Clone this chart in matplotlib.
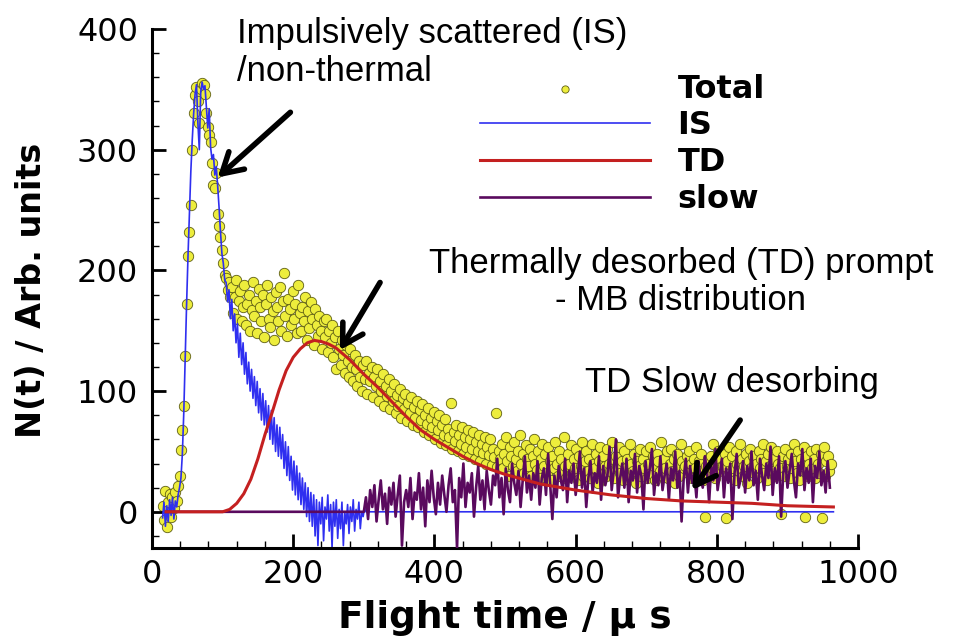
import numpy as np
import matplotlib
matplotlib.use("Agg")
import matplotlib.pyplot as plt
from matplotlib.ticker import MultipleLocator

# ---------------- data ----------------
# Total signal, sampled every 2 us starting at 15 us
total_start, total_step = 15, 2
total_vals = [
    5, -7, 17, -13, 8, 15, -4, 12, 3, 16, 9, 21, 30, 51, 68, 88, 129, 172, 212, 232,
    254, 300, 330, 345, 352, 340, 322, 350, 355, 354, 346, 330, 319, 312, 306, 289, 271, 268, 281, 247,
    237, 228, 217, 206, 196, 194, 184, 190, 178, 186, 165, 178, 192, 160, 175, 183, 158, 170, 188, 155,
    172, 180, 150, 167, 190, 162, 175, 148, 185, 170, 158, 180, 145, 172, 188, 160, 153, 178, 166, 142,
    182, 170, 158, 186, 150, 175, 198, 162, 146, 176, 168, 155, 183, 160, 172, 148, 188, 165, 150, 170,
    158, 178, 142, 166, 152, 174, 160, 138, 168, 155, 146, 162, 150, 135, 158, 145, 160, 132, 150, 140,
    155, 128, 145, 118, 150, 135, 122, 142, 130, 115, 138, 125, 112, 135, 120, 108, 130, 118, 104, 125,
    112, 100, 122, 110, 125, 98, 115, 108, 120, 95, 112, 104, 118, 92, 108, 100, 114, 88, 104, 96,
    110, 85, 100, 92, 106, 82, 97, 88, 102, 78, 94, 85, 98, 75, 90, 82, 95, 72, 87, 78,
    92, 70, 84, 76, 89, 66, 80, 73, 86, 64, 78, 70, 83, 60, 75, 68, 80, 57, 72, 64,
    77, 55, 69, 62, 90, 52, 66, 59, 72, 50, 64, 56, 70, 48, 62, 54, 68, 46, 60, 52,
    66, 44, 58, 50, 64, 42, 56, 49, 62, 40, 54, 47, 60, 39, 52, 45, 82, 37, 50, 44,
    56, 36, 48, 62, 42, 30, 54, 46, 38, 58, 44, 34, 50, 64, 40, 48, 32, 55, 44, 38,
    52, 30, 46, 60, 40, 35, 50, 28, 44, 56, 38, 48, 32, 54, 42, 26, 46, 36, 58, 40,
    30, 50, 44, 34, 62, 38, 28, 48, 40, 55, 32, 44, 36, 52, 26, 46, 38, 58, 30, 42,
    50, 34, 44, 28, 56, 40, 36, 48, 24, 42, 54, 32, 46, 38, 30, 52, 40, 34, 58, 44,
    28, 46, 38, 54, 32, 42, 26, 50, 36, 44, 30, 56, 40, 34, 48, 24, 42, 38, 52, 30,
    44, 36, 50, 28, 40, 54, 32, 46, 38, 26, 48, 42, 34, 58, 30, 44, 36, 50, 28, 40,
    52, 34, 44, 24, 48, 38, 30, 56, 42, 36, 38, 46, 32, 50, 40, 28, 44, 36, 54, 30,
    42, 48, 34, 26, -4, 38, 44, 30, 46, 36, 56, 28, 40, 50, 34, 44, 38, 38, 48, -5,
    42, 54, 30, 46, 36, 26, 50, 40, 34, 56, 44, 30, 38, 48, 24, 42, 52, 36, 46, 32,
    40, 28, 50, 36, 44, 56, 32, 42, 26, 48, 38, 54, 34, 44, 30, 50, 40, 36, -2, 46,
    30, 52, 38, 44, 28, 48, 36, 56, 42, 32, 50, 26, 44, 38, 54, -4, 46, 30, 40, 50,
    36, 44, 28, 52, 40, 32, 48, -5, 54, 30, 42, 46, 34, 40,
]

# Impulsively scattered component, sampled every 2 us starting at 15 us
is_start, is_step = 15, 2
is_vals = [
    -5, 8, -12, 5, -8, 10, -3, 12, -6, 9, 4,
    14, 20, 28, 48, 82, 128, 172, 212, 248, 282, 308, 330, 346,
    354, 322, 300, 348, 356, 350, 353, 336, 318, 334, 302, 292, 296, 279, 286, 270, 252, 232, 214,
    206, 192, 190, 174, 184, 160, 176, 150, 164, 140, 156, 128, 148, 122, 140, 114, 132, 106, 124, 100,
    118, 94, 112, 88, 108, 82, 102, 76, 98, 72, 92, 66, 88, 60, 84, 56, 78, 50, 72, 46,
    70, 44, 64, 36, 58, 30, 54, 26, 46, 18, 42, 14, 38, 10, 32, 6, 28, 2, 24, -4,
    20, -8, 16, -12, 14, -20, 10, -28, 8, -10, 12, -24, 4, -6, 14, -16, 6, -30, 8, -12,
    10, -22, 2, -14, 8, -28, 0, -10, 6, -18, 4, -8, 10, -16, 2, -6, 8, -14, 0, -4, 3, 0,
]
is_tail_t = [965]
is_tail_v = [0]

# Thermally desorbed (prompt, Maxwell-Boltzmann) component
td_t = [20, 100, 110, 120, 130, 140, 150, 160, 170, 180, 190, 200, 210, 220, 230, 240,
        250, 260, 270, 280, 300, 320, 340, 360, 380, 400, 420, 440, 460, 480, 500,
        550, 600, 650, 700, 750, 800, 850, 900, 965]
td_v = [0, 0, 2, 7, 15, 27, 44, 64, 82, 101, 117, 128, 135, 140, 142, 141,
        139, 136, 131, 126, 114, 103, 91, 79, 68, 60, 53, 46, 40, 35, 31,
        23, 18, 14, 11, 9, 8, 7, 5, 4]

# Slow desorbing component, sampled every 3 us starting at 300 us
slow_start, slow_step = 300, 3
slow_head_t = [20]
slow_head_v = [0]
slow_vals = [
    0, 12, -6, 18, 4, 22, -8, 10, 26, 2, 15, -10, 20, 6, 24, -4, 14, 30, -28, 8,
    18, 4, 28, -6, 16, 10, 32, 2, 20, -12, 26, 8, 34, 12, -2, 24, 6, 30, 14, 0,
    22, 36, 8, 18, -30, 28, 12, 40, 4, 24, 16, 32, -4, 20, 38, 10, 26, 2, 34, 18,
    6, 30, 22, 44, 12, 28, -2, 36, 18, 8, 40, 24, 14, 34, 4, 26, 46, 16, 30, 10,
    32, 20, 42, 6, 28, 36, 14, 48, 22, -6, 30, 12, 38, 26, 18, 44, 8, 34, 24, 40,
    14, 30, 50, 20, 36, 4, 28, 42, 16, 32, 24, 46, 10, 38, 22, 30, 54, 18, 34, 60,
    12, 28, 40, 20, 44, 8, 34, 26, 48, 16, 38, 30, 2, 42, 24, 36, 52, 14, 32, 22,
    46, 18, 30, 40, 10, 36, 26, 50, 20, 34, -8, 28, 44, 16, 38, 24, 32, 12, 42, 28,
    20, 46, 34, 8, 38, 26, 52, 18, 30, 44, 12, 36, 24, 40, -6, 32, 48, 20, 28, 42,
    16, 38, 26, 50, 22, 34, 10, 44, 30, 18, 40, 28, 54, 14, 36, 24, 46, -4, 32, 42,
    20, 34, 48, 26, 12, 40, 30, 52, 18, 36, 24, 44, 8, 38, 28, 50, 22, 34, 16, 42,
    20,
]

legend_labels = ["Total", "IS", "TD", "slow"]
x_ticks = [0, 200, 400, 600, 800, 1000]
y_ticks = [0, 100, 200, 300, 400]

# ---------------- derived grids ----------------
total_t = total_start + total_step * np.arange(len(total_vals))
is_t = np.concatenate([is_start + is_step * np.arange(len(is_vals)), is_tail_t])
is_y = np.concatenate([is_vals, is_tail_v])
slow_t = np.concatenate([slow_head_t, slow_start + slow_step * np.arange(len(slow_vals))])
slow_y = np.concatenate([slow_head_v, slow_vals])

# ---------------- figure ----------------
plt.rcParams['font.family'] = ['Liberation Sans', 'DejaVu Sans']
fig = plt.figure(figsize=(9.62, 6.39), dpi=100)
ax = fig.add_axes([0.158, 0.1424, 0.734, 0.8122])

sc = ax.scatter(total_t, total_vals, s=56, facecolor='#eded3c', edgecolor='#5e5e14',
                linewidths=0.6, zorder=1, label=legend_labels[0])
l_is, = ax.plot(is_t, is_y, color='#2f2ff0', lw=1.2, zorder=2, label=legend_labels[1])
l_slow, = ax.plot(slow_t, slow_y, color='#5a0a5e', lw=1.9, zorder=3, label=legend_labels[3])
l_td, = ax.plot(td_t, td_v, color='#c42020', lw=2.2, zorder=4, label=legend_labels[2])

ax.set_xlim(0, 1000)
ax.set_ylim(-30, 400)
ax.set_xticks(x_ticks)
ax.set_yticks(y_ticks)
ax.xaxis.set_minor_locator(MultipleLocator(40))
ax.yaxis.set_minor_locator(MultipleLocator(20))
for s in ['top', 'right']:
    ax.spines[s].set_visible(False)
for s in ['left', 'bottom']:
    ax.spines[s].set_linewidth(2.2)
ax.tick_params(which='major', direction='in', length=10, width=2.0)
ax.tick_params(axis='y', which='major', pad=10)
ax.tick_params(axis='x', which='major', pad=8)
ax.tick_params(which='minor', direction='in', length=5, width=1.0)
for lab in ax.get_xticklabels() + ax.get_yticklabels():
    lab.set_fontfamily('DejaVu Sans')
    lab.set_fontsize(23)

ax.set_xlabel('Flight time / μ s', fontsize=27, fontweight='bold', family='DejaVu Sans')
ax.set_ylabel('N(t) / Arb. units', fontsize=24, fontweight='bold', family='DejaVu Sans')
ax.xaxis.set_label_coords(0.5, -0.10)
ax.yaxis.set_label_coords(-0.147, 0.497)

leg = ax.legend([sc, l_is, l_td, l_slow], legend_labels, loc='upper left',
                bbox_to_anchor=(0.465, 0.914), frameon=False,
                prop={'family': 'DejaVu Sans', 'weight': 'bold', 'size': 23},
                handlelength=5.3, handletextpad=0.87, labelspacing=0.18,
                borderaxespad=0, borderpad=0, markerscale=0.7, scatterpoints=1)

afont = dict(family=['Liberation Sans', 'DejaVu Sans'], fontsize=25)
ax.text(120, 410, 'Impulsively scattered (IS)\n/non-thermal', ha='left', va='top',
        clip_on=False, linespacing=1.2, **afont)
ax.text(749, 219, 'Thermally desorbed (TD) prompt\n- MB distribution', ha='center',
        va='top', linespacing=1.15, **afont)
ax.text(613, 121, 'TD Slow desorbing', ha='left', va='top', **afont)

arrow = dict(arrowstyle='->,head_length=0.6,head_width=0.35', lw=4, color='black',
             mutation_scale=24, shrinkA=0, shrinkB=0)
ax.annotate('', xy=(93, 277), xytext=(196, 331), arrowprops=arrow, zorder=6)
ax.annotate('', xy=(266, 134), xytext=(323, 190), arrowprops=arrow, zorder=6)
ax.annotate('', xy=(765, 18), xytext=(833, 76), arrowprops=arrow, zorder=6)

fig.savefig('out.png', dpi=100)
